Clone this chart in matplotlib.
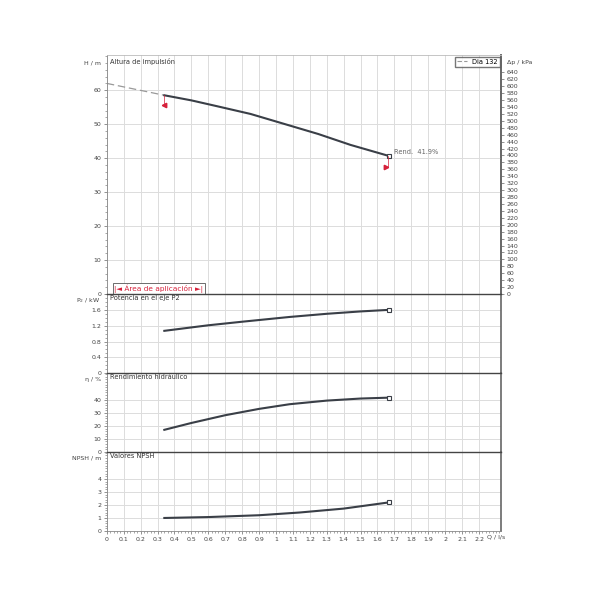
import matplotlib.pyplot as plt
from matplotlib.ticker import MultipleLocator

# pump curve data (Q in l/s)
q_h = [0.34, 0.50, 0.65, 0.85, 1.04, 1.25, 1.44, 1.67]
h_m = [58.5, 57.0, 55.3, 53.0, 50.2, 47.1, 43.9, 40.6]
q_ext = [0.0, 0.34]
h_ext = [62.0, 58.5]

q_p = [0.34, 0.60, 0.80, 1.08, 1.30, 1.50, 1.67]
p_kw = [1.07, 1.21, 1.30, 1.42, 1.50, 1.56, 1.60]

q_eta = [0.34, 0.50, 0.70, 0.90, 1.08, 1.30, 1.50, 1.67]
eta = [17.0, 22.3, 28.3, 33.2, 36.8, 39.6, 41.2, 41.9]

q_npsh = [0.34, 0.60, 0.90, 1.14, 1.40, 1.67]
npsh = [1.0, 1.07, 1.21, 1.42, 1.72, 2.2]

flag_q = [0.34, 1.65]
flag_h = [55.5, 37.5]

x_ticks = [round(0.1 * i, 1) for i in range(23)]
x_labels = ["0" if t == 0 else ("1" if t == 1 else ("2" if t == 2 else str(t))) for t in x_ticks]

grid_c = "#dcdcdc"
curve_c = "#3a3f47"
fs = 4.5

fig = plt.figure(figsize=(6, 6), dpi=100)
left, width = 0.178, 0.657
ax1 = fig.add_axes([left, 0.51, width, 0.398])
ax2 = fig.add_axes([left, 0.378, width, 0.132])
ax3 = fig.add_axes([left, 0.247, width, 0.131])
ax4 = fig.add_axes([left, 0.115, width, 0.132])
axes = [ax1, ax2, ax3, ax4]

for ax in axes:
    ax.set_xlim(0, 2.33)
    ax.set_xticks(x_ticks)
    ax.xaxis.set_minor_locator(MultipleLocator(0.02))
    ax.grid(True, which="major", color=grid_c, lw=0.7)
    ax.tick_params(labelsize=fs, length=2.5, width=0.5, color="#666666", pad=1.5, labelcolor="#444444")
    ax.tick_params(which="minor", length=1.5, width=0.4, color="#666666")
    for s in ["left", "bottom"]:
        ax.spines[s].set_color("#888888")
        ax.spines[s].set_linewidth(0.6)
    ax.spines["right"].set_color("#666666")
    ax.spines["right"].set_linewidth(1.2)
    ax.spines["top"].set_color("#444444")
    ax.spines["top"].set_linewidth(1.0)
    if ax is not ax4:
        ax.tick_params(axis="x", which="both", bottom=False, labelbottom=False)
        ax.spines["bottom"].set_visible(False)

ax1.spines["top"].set_color("#bbbbbb")
ax1.spines["top"].set_linewidth(0.6)
ax4.set_xticklabels(x_labels)
ax4.text(2.245, -0.28, "Q / l/s", fontsize=fs, color="#444444", va="top", ha="left")

# top panel: head
ax1.set_ylim(0, 70.3)
ax1.set_yticks([0, 10, 20, 30, 40, 50, 60])
ax1.yaxis.set_minor_locator(MultipleLocator(2))
ax1.plot(q_ext, h_ext, color="#999999", lw=0.9, ls=(0, (6, 3)))
ax1.plot(q_h, h_m, color=curve_c, lw=1.5)
ax1.plot(q_h[-1], h_m[-1], marker="s", ms=3, mfc="white", mec=curve_c, mew=0.8)
ax1.plot(flag_q[0], flag_h[0], marker="<", ms=3.2, color="#d6213b", ls="none")
ax1.plot(flag_q[1], flag_h[1], marker=">", ms=3.2, color="#d6213b", ls="none")
ax1.plot([flag_q[0], flag_q[0]], [flag_h[0], h_m[0]], color="#d6213b", lw=0.5)
ax1.plot([flag_q[1] + 0.01, flag_q[1] + 0.01], [flag_h[1], h_m[-1]], color="#d6213b", lw=0.5)
ax1.text(1.70, 41.3, "Rend.  41.9%", fontsize=fs + 0.3, color="#666666")
ax1.text(0.02, 69.5, "Altura de impulsión", fontsize=fs + 0.3, va="top", color="#333333")
ax1.text(0.045, 1.4, "|◄ Área de aplicación ►|", fontsize=fs + 0.8, color="#d6213b", va="center",
         bbox=dict(boxstyle="square,pad=0.25", fc="white", ec="#555555", lw=0.6))
ax1.legend([plt.Line2D([], [], color="#999999", lw=0.8, ls=(0, (4, 2)))], ["Dia 132"],
           loc="upper right", fontsize=fs + 0.3, frameon=True, fancybox=False, handlelength=1.5,
           borderpad=0.3, borderaxespad=0.2, edgecolor="#555555")

sec = ax1.secondary_yaxis("right", functions=(lambda v: v * 9.81, lambda v: v / 9.81))
sec.set_yticks(list(range(0, 641, 20)))
sec.tick_params(labelsize=fs, length=2.5, width=0.5, color="#666666", pad=1.5, labelcolor="#444444")
sec.spines["right"].set_color("#666666")
sec.spines["right"].set_linewidth(1.2)

# power panel
ax2.set_ylim(0, 2.0)
ax2.set_yticks([0, 0.4, 0.8, 1.2, 1.6])
ax2.set_yticklabels(["0", "0.4", "0.8", "1.2", "1.6"])
ax2.yaxis.set_minor_locator(MultipleLocator(0.1))
ax2.plot(q_p, p_kw, color=curve_c, lw=1.5)
ax2.plot(q_p[-1], p_kw[-1], marker="s", ms=3, mfc="white", mec=curve_c, mew=0.8)
ax2.text(0.02, 1.97, "Potencia en el eje P2", fontsize=fs + 0.3, va="top", color="#333333")

# efficiency panel
ax3.set_ylim(0, 60.8)
ax3.set_yticks([0, 10, 20, 30, 40])
ax3.yaxis.set_minor_locator(MultipleLocator(2))
ax3.plot(q_eta, eta, color=curve_c, lw=1.5)
ax3.plot(q_eta[-1], eta[-1], marker="s", ms=3, mfc="white", mec=curve_c, mew=0.8)
ax3.text(0.02, 60, "Rendimiento hidráulico", fontsize=fs + 0.3, va="top", color="#333333")

# NPSH panel
ax4.set_ylim(0, 6.08)
ax4.set_yticks([0, 1, 2, 3, 4])
ax4.yaxis.set_minor_locator(MultipleLocator(0.2))
ax4.plot(q_npsh, npsh, color=curve_c, lw=1.5)
ax4.plot(q_npsh[-1], npsh[-1], marker="s", ms=3, mfc="white", mec=curve_c, mew=0.8)
ax4.text(0.02, 6.0, "Valores NPSH", fontsize=fs + 0.3, va="top", color="#333333")

# axis unit labels
fig.text(0.168, 0.893, "H / m", fontsize=fs, ha="right", color="#444444")
fig.text(0.168, 0.497, "P$_2$ / kW", fontsize=fs, ha="right", color="#444444")
fig.text(0.168, 0.365, "η / %", fontsize=fs, ha="right", color="#444444")
fig.text(0.168, 0.234, "NPSH / m", fontsize=fs, ha="right", color="#444444")
fig.text(0.845, 0.893, "Δp / kPa", fontsize=fs, ha="left", color="#444444")

fig.savefig("out.png", dpi=100)
